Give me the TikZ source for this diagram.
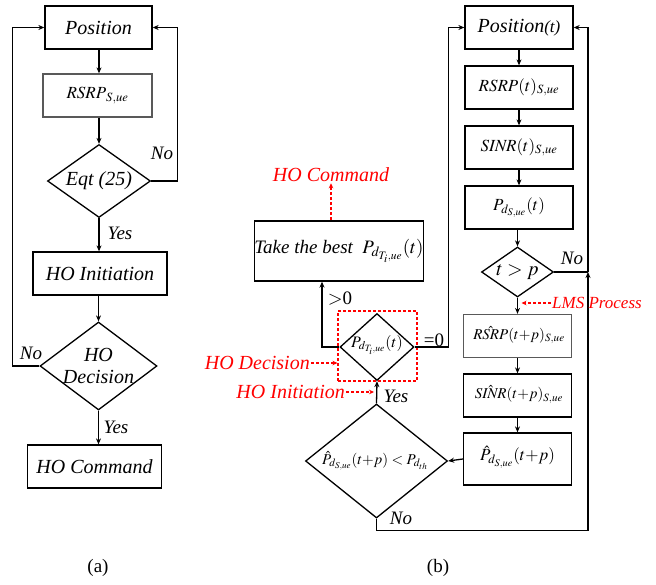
\documentclass[tikz,border=0pt]{standalone}
\usepackage{mathptmx}
\usepackage{fontspec}
\setmainfont{Liberation Serif}
\usetikzlibrary{arrows.meta,shapes.geometric,calc}
\begin{document}
\begin{tikzpicture}[x=1pt,y=-1pt,
  every node/.style={font=\fontsize{20}{23}\selectfont\itshape, text=black},
  bx/.style={draw, line width=1.3pt, inner sep=0pt},
  gbx/.style={draw=black!65, line width=1.3pt, inner sep=0pt},
  dm/.style={draw, diamond, line width=1.3pt, inner sep=0pt},
  ln/.style={line width=1.3pt},
  arr/.style={ln, -{Stealth[length=6pt,width=5pt]}},
  rarr/.style={red, line width=1.1pt, dash pattern=on 3pt off 2pt, -{Stealth[length=5pt,width=4.5pt]}},
  lbl/.style={inner sep=1pt, font=\fontsize{19}{22}\selectfont\itshape},
  rl/.style={text=red, inner sep=1pt},
  mth/.style={font=\fontsize{17}{20}\selectfont},
  smth/.style={font=\fontsize{15}{18}\selectfont},
  captxt/.style={font=\fontsize{19}{22}\selectfont\upshape},
]
\useasboundingbox (0,0) rectangle (656,584);

% ---------------- (a) ----------------
\node[bx, minimum width=107, minimum height=43] (pa) at (98.5,27.5) {Position};
\node[gbx, minimum width=109, minimum height=43, mth] (ra) at (97.5,95.5) {$\mathit{RSRP}_{S,ue}$};
\node[dm, minimum width=103, minimum height=73] (eqd) at (99,181) {};
\node (eqt) at (eqd) {Eqt (25)};
\node[bx, minimum width=134, minimum height=43] (hia) at (100,273.5) {HO Initiation};
\node[dm, minimum width=117, minimum height=88] (hdd) at (98.5,366) {};
\node[align=center, font=\fontsize{20}{22}\selectfont\itshape] (hdt) at (hdd) {HO\\Decision};
\node[bx, minimum width=134, minimum height=43] (hca) at (94.5,466.5) {HO Command};

\draw[arr] (pa.south -| 99,0) -- (ra.north -| 99,0);
\draw[arr] (ra.south -| 99,0) -- (eqd.north);
\draw[arr] (eqd.south) -- (eqd.south |- hia.north);
\draw[arr] (hia.south -| hdd.north) -- (hdd.north);
\draw[arr] (hdd.south) -- (hdd.south |- hca.north);
\draw[arr] (eqd.east) -- ++(26,0) |- (pa.east);
\draw[arr] (hdd.west) -- ++(-27,0) |- (pa.west);

\node[lbl] (ya1) at (120,233) {Yes};
\node[lbl] (na1) at (162,153) {No};
\node[lbl] (na2) at (31,353) {No};
\node[lbl] (ya2) at (116,427) {Yes};
\node[captxt] (capa) at (98,568) {(a)};

% ---------------- (b) ----------------
\node[bx, minimum width=108, minimum height=43] (pb) at (519,27.5) {Position{\fontsize{17}{17}\selectfont(t)}};
\node[bx, minimum width=108, minimum height=43, mth] (rb) at (519,87.5) {$\mathit{RSRP}(t)_{S,ue}$};
\node[bx, minimum width=108, minimum height=43, mth] (sb) at (519,147.5) {$\mathit{SINR}(t)_{S,ue}$};
\node[bx, minimum width=108, minimum height=43, mth] (pdb) at (519,207.5) {$P_{d_{S,ue}}(t)$};
\node[dm, minimum width=72, minimum height=50] (tpd) at (517.5,272) {};
\node (tpt) at (tpd) {$t > p$};
\node[gbx, minimum width=108, minimum height=43] (rh) at (517.5,336) {};
\node[smth] (rht) at (519,335) {$\hat{\mathit{RSRP}}(t{+}p)_{S,ue}$};
\node[bx, minimum width=108, minimum height=43] (sh) at (517.5,395.5) {};
\node[smth] (sht) at (519,394.5) {$\hat{\mathit{SINR}}(t{+}p)_{S,ue}$};
\node[bx, minimum width=108, minimum height=52] (ph) at (517.5,459) {};
\node[mth] (pht) at (517.5,457) {$\hat{P}_{d_{S,ue}}(t{+}p)$};
\node[dm, minimum width=142, minimum height=114] (bgd) at (376.5,461) {};
\node[smth] (bgt) at (375,461) {$\hat{P}_{d_{S,ue}}(t{+}p) < P_{d_{th}}$};
\node[dm, minimum width=74, minimum height=67] (dcd) at (377,347) {};
\node[font=\fontsize{16}{19}\selectfont] (dct) at (377,345) {$P_{d_{T_i,ue}}(t)$};
\node[draw=red, dash pattern=on 3pt off 2pt, line width=1.1pt, minimum width=79, minimum height=70, inner sep=0pt] (dbox) at (377.5,346) {};
\node[bx, minimum width=164, minimum height=60, font=\fontsize{19}{22}\selectfont\itshape] (tk) at (339,251) {Take the best\ \ $P_{d_{T_i,ue}}(t)$};

\coordinate (rj) at (588,272);
\coordinate (tkb) at ($(tk.south)+(-17,0)$);

\draw[arr] (pb) -- (rb);
\draw[arr] (rb) -- (sb);
\draw[arr] (sb) -- (pdb);
\draw[arr] (pdb.south -| tpd.north) -- (tpd.north);
\draw[arr] (tpd.south) -- (tpd.south |- rh.north);
\draw[arr] (rh) -- (sh);
\draw[arr] (sh) -- (ph);
\draw[arr] (ph.west) -- (bgd.east);
\draw[arr] (bgd.north) -- (dcd.south);
\draw[arr] (dcd.west) -| (tkb);
\draw[arr] (dcd.east) -- ++(34,0) |- (pb.west);
\draw[ln] (tpd.east) -- (rj);
\draw[arr] (rj) |- (pb.east);
\draw[arr] (bgd.south) -- ++(0,12) -| (rj);

\node[lbl] (nb1) at (572,258) {No};
\node[lbl] (nb2) at (401,518) {No};
\node[lbl] (yb) at (396,396) {Yes};
\node[lbl, font=\fontsize{19}{22}\selectfont\upshape] (gz) at (340,299) {$>$0};
\node[lbl, font=\fontsize{19}{22}\selectfont\upshape] (ez) at (434,340) {=0};

% red annotations
\node[rl] (hoc) at (331,175) {HO Command};
\draw[rarr] (tk.north -| hoc.south) -- (hoc.south);
\node[rl, anchor=east] (hodl) at (311,363) {HO Decision};
\draw[rarr] (hodl.east) -- (dbox.west |- hodl.east);
\node[rl, anchor=east] (hoil) at (346,392) {HO Initiation};
\draw[rarr] (hoil.east) -- ($(dcd.south |- hoil.east)+(-3,0)$);
\node[rl, anchor=west, font=\fontsize{17}{20}\selectfont\itshape] (lms) at (551,303) {LMS Process};
\draw[rarr] (lms.west) -- ($(tpd.south |- lms.west)+(4,0)$);

\node[captxt] (capb) at (438,568) {(b)};
\end{tikzpicture}
\end{document}
